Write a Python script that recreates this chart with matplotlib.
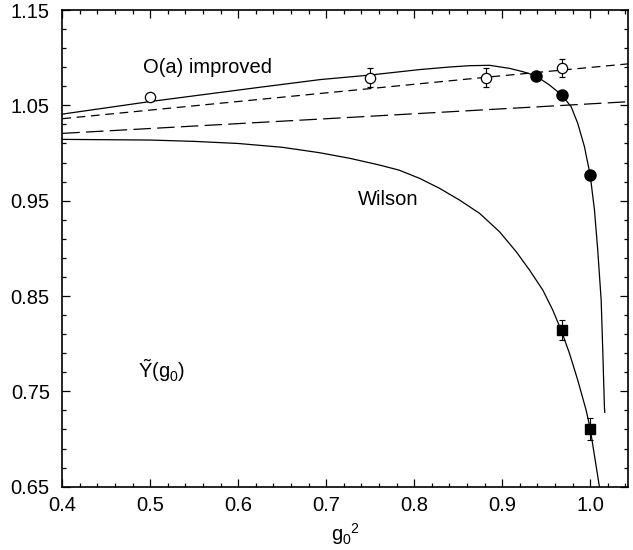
import numpy as np
import matplotlib.pyplot as plt
from matplotlib.ticker import FixedLocator

plt.rcParams['font.family'] = ['Liberation Sans', 'DejaVu Sans']
plt.rcParams['mathtext.fontset'] = 'custom'
plt.rcParams['mathtext.rm'] = 'Liberation Sans'
plt.rcParams['mathtext.it'] = 'Liberation Sans:italic'

# O(a) improved data (open circles)
imp_x = [0.5, 0.75, 0.882, 0.968]
imp_y = [1.059, 1.079, 1.079, 1.089]
imp_err = [0.003, 0.010, 0.010, 0.0095]

# filled circles
fill_x = [0.938, 0.968, 1.0]
fill_y = [1.0809, 1.0606, 0.977]

# Wilson data (squares)
wil_x = [0.968, 1.0]
wil_y = [0.8142, 0.711]
wil_err = [0.0105, 0.0115]

# O(a) improved fit curve
fit_imp_x = [0.40, 0.50, 0.624, 0.693, 0.75, 0.806, 0.840, 0.8629, 0.8856, 0.9083,
             0.9235, 0.9379, 0.9538, 0.9678, 0.9784, 0.9859, 0.9935, 1.0, 1.0049,
             1.0086, 1.0125, 1.0143, 1.0162, 1.0166]
fit_imp_y = [1.0408, 1.0540, 1.0689, 1.0770, 1.0818, 1.0875, 1.0902, 1.0916, 1.0920,
             1.0888, 1.0853, 1.0811, 1.0713, 1.0608, 1.0485, 1.0311, 1.0066, 0.977,
             0.9401, 0.8982, 0.8457, 0.7932, 0.7337, 0.728]

# Wilson fit curve
fit_wil_x = [0.40, 0.50, 0.55, 0.60, 0.650, 0.6926, 0.727, 0.760, 0.783, 0.8062,
             0.8289, 0.8516, 0.8743, 0.8970, 0.916, 0.9311, 0.9462, 0.9575, 0.967,
             0.9765, 0.9859, 0.9954, 1.0, 1.0105]
fit_wil_y = [1.0143, 1.0136, 1.0122, 1.0100, 1.0060, 1.0003, 0.9944, 0.9875, 0.982,
             0.9734, 0.9629, 0.9506, 0.9367, 0.9174, 0.8964, 0.8772, 0.8562, 0.8352,
             0.8142, 0.7898, 0.7617, 0.7303, 0.711, 0.650]

# dashed lines
short_x = [0.40, 0.882, 1.043]
short_y = [1.0360, 1.0795, 1.0935]
long_x = [0.40, 0.693, 1.043]
long_y = [1.0206, 1.0356, 1.0538]

fig = plt.figure(figsize=(6.33, 5.5), dpi=100)
ax = fig.add_axes([0.0984, 0.1151, 0.8937, 0.8667])

ax.plot(fit_imp_x, fit_imp_y, color='black', lw=0.9)
ax.plot(fit_wil_x, fit_wil_y, color='black', lw=0.9)
ax.plot(short_x, short_y, color='black', lw=0.9, dashes=(7, 4.5))
ax.plot(long_x, long_y, color='black', lw=0.9, dashes=(14, 5))

ax.errorbar(imp_x, imp_y, yerr=imp_err, fmt='o', ms=7.4, mfc='white', mec='black',
            mew=0.9, ecolor='black', elinewidth=0.8, capsize=2.5, capthick=0.8, zorder=5)
ax.plot(fill_x, fill_y, 'o', ms=8, color='black', zorder=6)
ax.errorbar(wil_x, wil_y, yerr=wil_err, fmt='s', ms=7, color='black',
            elinewidth=0.8, capsize=2.5, capthick=0.8, zorder=6)

ax.text(0.5645, 1.0900, 'O(a) improved', fontsize=14.5, ha='center', va='center')
ax.text(0.7706, 0.9514, 'Wilson', fontsize=14.5, ha='center', va='center')
ax.text(0.5124, 0.7715, r'$\tilde{\mathrm{Y}}(\mathrm{g}_0)$', fontsize=14.5,
        ha='center', va='center')

ax.set_xlim(0.4, 1.043)
ax.set_ylim(0.65, 1.15)
ax.xaxis.set_major_locator(FixedLocator(np.arange(0.4, 1.001, 0.1)))
ax.xaxis.set_minor_locator(FixedLocator(np.arange(0.4, 1.045, 0.02)))
ax.yaxis.set_major_locator(FixedLocator(np.arange(0.65, 1.151, 0.1)))
ax.yaxis.set_minor_locator(FixedLocator(np.arange(0.65, 1.151, 0.02)))
ax.set_xticklabels(['0.4', '0.5', '0.6', '0.7', '0.8', '0.9', '1.0'])
ax.set_yticklabels(['0.65', '0.75', '0.85', '0.95', '1.05', '1.15'])
ax.tick_params(which='both', direction='in', top=True, right=True, labelsize=14.5,
               width=0.9)
ax.tick_params(which='major', length=6, pad=7)
ax.tick_params(which='minor', length=3)
ax.tick_params(axis='y', which='major', pad=9)
for s in ax.spines.values():
    s.set_linewidth(1.2)

ax.set_xlabel(r'$\mathrm{g}_0{}^2$', fontsize=14.5, labelpad=4)

fig.savefig('out.png', dpi=100)
